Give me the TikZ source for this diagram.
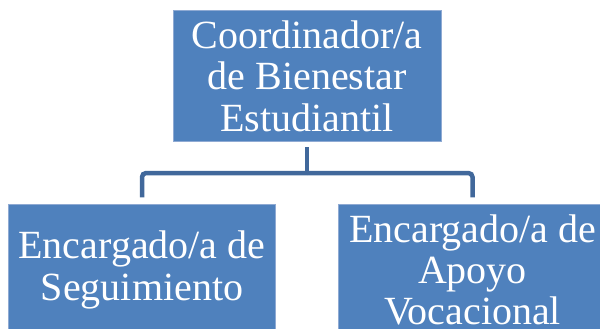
\documentclass[tikz,border=0pt]{standalone}
\usepackage{fontspec}
\setmainfont{Liberation Serif}
\definecolor{boxblue}{HTML}{4F81BD}
\definecolor{boxedge}{HTML}{8FAAD3}
\definecolor{linkblue}{HTML}{41689B}
\tikzset{
  orgbox/.style={rectangle, fill=boxblue, draw=boxedge, line width=0.7pt,
    minimum width=267.5pt, minimum height=131pt, inner sep=0pt,
    align=center, text=white, font=\fontsize{40}{41.3}\selectfont},
  link/.style={draw=linkblue, line width=4.5pt, rounded corners=4pt}
}
\begin{document}
\begin{tikzpicture}[x=1pt,y=-1pt]
\useasboundingbox (0,0) rectangle (600,329);
\clip (0,0) rectangle (600,329);
\node[orgbox] (top) at (307.2,76.2) {Coordinador/a\\de Bienestar\\Estudiantil};
\node[orgbox] (left) at (142,269.8) {Encargado/a de\\Seguimiento};
\node[orgbox] (right) at (472.5,269.8) {Encargado/a de\\Apoyo\\Vocacional};
\coordinate (hub) at ([yshift=-31pt]top.south);
\draw[link] ([yshift=-5.3pt]top.south) -- (hub);
\draw[link] (hub) -| ([yshift=6.5pt]left.north);
\draw[link] (hub) -| ([yshift=6.5pt]right.north);
\end{tikzpicture}
\end{document}
